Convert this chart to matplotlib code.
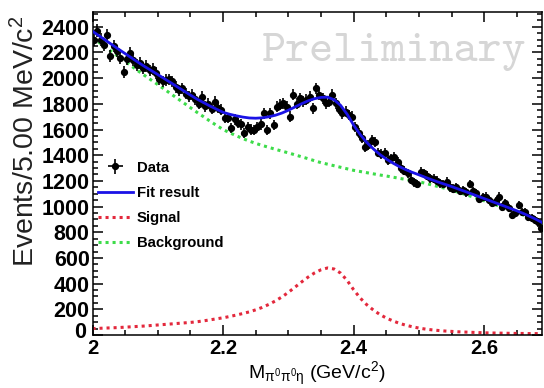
import numpy as np
from matplotlib import pyplot as plt
from matplotlib.ticker import MultipleLocator, FuncFormatter
from matplotlib.transforms import blended_transform_factory

plt.rcParams['font.family'] = ['Liberation Sans', 'DejaVu Sans']
plt.rcParams['mathtext.fontset'] = 'custom'
plt.rcParams['mathtext.rm'] = 'Liberation Sans'
plt.rcParams['mathtext.it'] = 'Liberation Sans'

# data: events per 5 MeV bin, bin centres 2.0025 ... 2.6875
bin_lo = 2.0
bin_w = 0.005
counts = [
    2300, 2370, 2300, 2260, 2337, 2175, 2250, 2210, 2160, 2050,
    2150, 2195, 2140, 2100, 2120, 2080, 2095, 2060, 2070, 2040,
    1990, 1975, 1985, 1990, 1975, 1930, 1905, 1920, 1880, 1860,
    1870, 1835, 1800, 1857, 1780, 1800, 1760, 1818, 1770, 1753,
    1688, 1690, 1610, 1680, 1650, 1640, 1571, 1620, 1600, 1597,
    1620, 1640, 1727, 1597, 1727, 1636, 1779, 1792, 1805, 1779,
    1701, 1870, 1800, 1844, 1820, 1831, 1857, 1766, 1922, 1870,
    1844, 1805, 1818, 1870, 1805, 1760, 1727, 1740, 1714, 1701,
    1620, 1571, 1535, 1467, 1480, 1519, 1506, 1420, 1410, 1415,
    1364, 1376, 1389, 1350, 1300, 1280, 1260, 1208, 1190, 1175,
    1272, 1260, 1240, 1221, 1215, 1200, 1180, 1175, 1195, 1150,
    1140, 1150, 1120, 1130, 1110, 1175, 1120, 1104, 1060, 1075,
    1078, 1050, 1030, 1040, 1078, 1000, 1026, 990, 935, 948,
    1013, 961, 961, 920, 910, 896, 880, 831,
]

# curves sampled every 10 MeV
curve_x = [round(2.0 + 0.01 * k, 2) for k in range(70)]
background = [
    2315, 2278, 2241, 2204, 2167, 2130, 2093, 2056, 2020, 1985,
    1950, 1914, 1878, 1842, 1806, 1770, 1734, 1700, 1665, 1632,
    1600, 1575, 1552, 1530, 1510, 1492, 1476, 1461, 1446, 1432,
    1418, 1403, 1388, 1373, 1357, 1342, 1330, 1318, 1306, 1294,
    1282, 1273, 1264, 1255, 1246, 1238, 1229, 1220, 1211, 1202,
    1193, 1181, 1168, 1155, 1142, 1128, 1112, 1096, 1079, 1062,
    1045, 1027, 1009, 991, 973, 955, 934, 912, 888, 862,
]
signal = [
    50, 52, 54, 56, 58, 61, 64, 67, 70, 74,
    78, 82, 86, 90, 94, 98, 103, 110, 118, 126,
    134, 144, 155, 167, 180, 196, 215, 238, 265, 296,
    332, 372, 412, 450, 483, 508, 522, 514, 482, 425,
    352, 288, 236, 195, 160, 132, 110, 91, 76, 64,
    54, 46, 40, 35, 31, 28, 25, 23, 21, 19,
    17, 16, 15, 14, 13, 12, 12, 11, 11, 10,
]
fit = [
    2365, 2330, 2295, 2260, 2225, 2191, 2157, 2123, 2090, 2059,
    2028, 1996, 1964, 1932, 1900, 1868, 1837, 1810, 1783, 1758,
    1734, 1719, 1707, 1697, 1690, 1688, 1691, 1699, 1711, 1728,
    1750, 1775, 1800, 1823, 1840, 1850, 1852, 1832, 1788, 1719,
    1634, 1561, 1500, 1450, 1406, 1370, 1339, 1311, 1287, 1266,
    1247, 1227, 1208, 1190, 1173, 1156, 1137, 1119, 1100, 1081,
    1062, 1043, 1024, 1005, 986, 967, 946, 923, 899, 872,
]

x_centres = [bin_lo + bin_w * (i + 0.5) for i in range(len(counts))]
errors = np.sqrt(counts)

fig = plt.figure(figsize=(5.44, 3.88), dpi=100)
ax = fig.add_axes([92.5 / 544, 1 - 335 / 388, 449.2 / 544, 323 / 388])

h_data = ax.errorbar(x_centres, counts, yerr=errors, xerr=bin_w / 2, fmt='o', color='black',
                     ms=4.2, elinewidth=1.2, capsize=0, zorder=3)
h_fit, = ax.plot(curve_x, fit, color='#1a12e6', lw=2.0, zorder=4)
h_sig, = ax.plot(curve_x, signal, color='#e3283c', lw=2.2, dashes=(1, 1.3))
h_bkg, = ax.plot(curve_x, background, color='#3ddc4a', lw=2.2, dashes=(1, 1.3))

ax.text(0.671, 0.876, 'Preliminary', transform=ax.transAxes, ha='center', va='center',
        fontsize=33, family='cmtt10', color='#d6d6d6', zorder=0)

ax.set_xlim(2.0, 2.688)
ax.set_ylim(0, 2515)
ax.xaxis.set_major_locator(MultipleLocator(0.2))
ax.xaxis.set_minor_locator(MultipleLocator(0.05))
ax.yaxis.set_major_locator(MultipleLocator(200))
ax.yaxis.set_minor_locator(MultipleLocator(50))
ax.xaxis.set_major_formatter(FuncFormatter(lambda v, p: '%g' % round(v, 2)))
# the "0" label is drawn by hand below so it does not sit on the "2"
ax.yaxis.set_major_formatter(FuncFormatter(lambda v, p: '%d' % v if v > 0 else ''))

ax.tick_params(which='both', direction='in', top=True, right=True, width=1.1)
ax.tick_params(which='major', length=7)
ax.tick_params(which='minor', length=3.5)
ax.tick_params(axis='x', which='major', pad=3, labelsize=14.5)
ax.tick_params(axis='y', which='major', pad=2, labelsize=15.5)
for lab in ax.get_xticklabels() + ax.get_yticklabels():
    lab.set_fontweight('bold')
for sp in ax.spines.values():
    sp.set_linewidth(1.1)

zero_tr = blended_transform_factory(ax.transAxes, ax.transData)
ax.text(-6.5 / 449.2, 18, '0', transform=zero_tr, ha='right', va='center',
        fontsize=15.5, fontweight='bold')

ax.set_xlabel(r'M$_{\pi^0\pi^0\eta}$ (GeV/c$^2$)', fontsize=14, va='top')
ax.xaxis.set_label_coords(0.5, -0.0758)
ax.set_ylabel(r'Events/5.00 MeV/c$^2$', fontsize=20.5, color='#222222', loc='top')
ax.yaxis.set_label_coords(-0.117, 0.99)

leg = ax.legend([h_data, h_fit, h_sig, h_bkg], ['Data', 'Fit result', 'Signal', 'Background'],
                loc='center left', bbox_to_anchor=(98 / 544, 1 - 205.3 / 388),
                bbox_transform=fig.transFigure, frameon=False, borderpad=0,
                borderaxespad=0, handlelength=2.35, handletextpad=0.25,
                labelspacing=0.75, prop={'weight': 'bold', 'size': 10.7})

fig.savefig('out.png', dpi=100)
